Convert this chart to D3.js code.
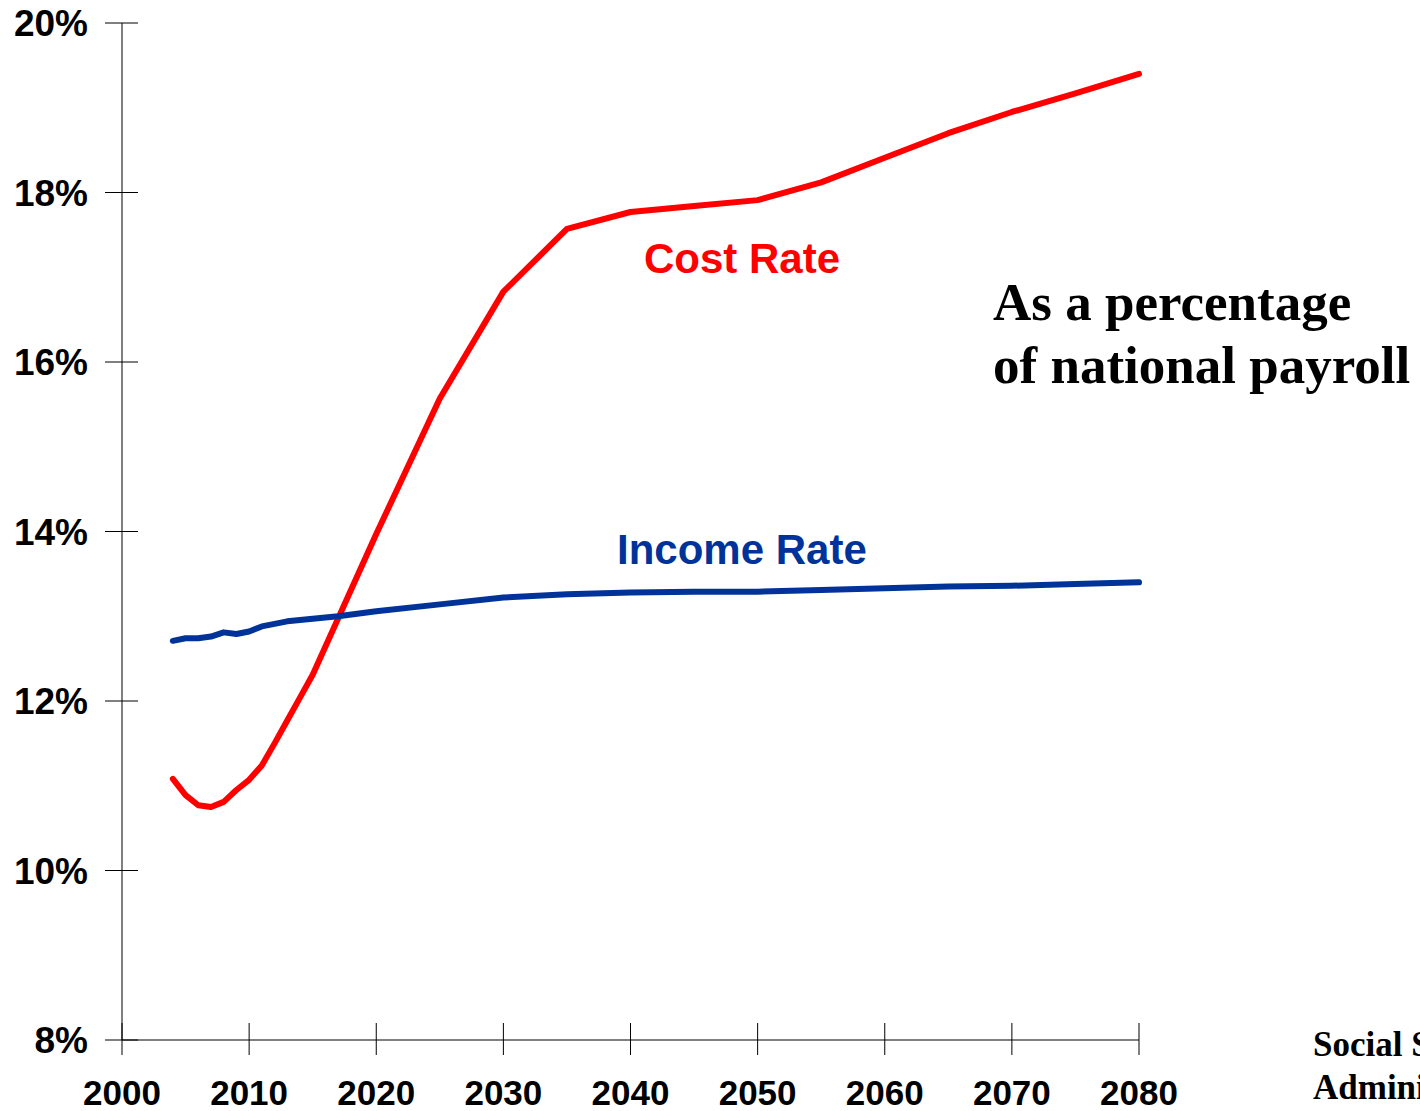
<!DOCTYPE html>
<html><head><meta charset="utf-8">
<script src="https://cdn.jsdelivr.net/npm/d3@7"></script>
<style>html,body{margin:0;padding:0;background:#fff;}svg{display:block;}</style>
</head><body>
<svg id="chart" width="1420" height="1111"></svg>
<script>
const costYears = [2004,2005,2006,2007,2008,2009,2010,2011,2012,2013,2014,2015,2020,2025,2030,2035,2040,2045,2050,2055,2060,2065,2070,2075,2080];
const costRate  = [11.08,10.89,10.77,10.75,10.81,10.95,11.07,11.24,11.50,11.77,12.04,12.31,13.97,15.57,16.83,17.57,17.77,17.84,17.91,18.12,18.41,18.70,18.95,19.17,19.40];
const incomeYears = [2004,2005,2006,2007,2008,2009,2010,2011,2013,2015,2017,2020,2025,2030,2035,2040,2045,2050,2055,2060,2065,2070,2075,2080];
const incomeRate  = [12.71,12.74,12.74,12.76,12.81,12.79,12.82,12.88,12.94,12.97,13.00,13.06,13.14,13.22,13.26,13.28,13.29,13.29,13.31,13.33,13.35,13.36,13.38,13.40];
const xTicks = [2000,2010,2020,2030,2040,2050,2060,2070,2080];
const yTicks = [8,10,12,14,16,18,20];

const svg = d3.select("#chart");
const x = d3.scaleLinear().domain([2000,2080]).range([122,1139]);
const y = d3.scaleLinear().domain([8,20]).range([1040,23]);

svg.append("line").attr("x1",122).attr("x2",122).attr("y1",y(20)).attr("y2",y(8)).attr("stroke","#000").attr("stroke-width",1);
svg.append("line").attr("x1",x(2000)).attr("x2",x(2080)).attr("y1",y(8)).attr("y2",y(8)).attr("stroke","#000").attr("stroke-width",1);

svg.selectAll(".yt").data(yTicks).enter().append("line")
  .attr("x1",105).attr("x2",138).attr("y1",d=>y(d)).attr("y2",d=>y(d)).attr("stroke","#000");
svg.selectAll(".yl").data(yTicks).enter().append("text")
  .attr("x",88).attr("y",d=>y(d)+13).attr("text-anchor","end")
  .attr("font-family","'Liberation Sans', Arial, sans-serif").attr("font-weight","bold").attr("font-size",37)
  .text(d=>d+"%");
svg.selectAll(".xt").data(xTicks).enter().append("line")
  .attr("x1",d=>x(d)).attr("x2",d=>x(d)).attr("y1",1023).attr("y2",1055).attr("stroke","#000");
svg.selectAll(".xl").data(xTicks).enter().append("text")
  .attr("x",d=>x(d)).attr("y",1105).attr("text-anchor","middle")
  .attr("font-family","'Liberation Sans', Arial, sans-serif").attr("font-weight","bold").attr("font-size",35)
  .text(d=>d);

const line = d3.line().x(d=>x(d[0])).y(d=>y(d[1]));
svg.append("path").datum(costYears.map((yr,i)=>[yr,costRate[i]]))
  .attr("d",line).attr("fill","none").attr("stroke","#ff0000").attr("stroke-width",6).attr("stroke-linejoin","round").attr("stroke-linecap","round");
svg.append("path").datum(incomeYears.map((yr,i)=>[yr,incomeRate[i]]))
  .attr("d",line).attr("fill","none").attr("stroke","#003399").attr("stroke-width",6).attr("stroke-linejoin","round").attr("stroke-linecap","round");

svg.append("text").attr("x",644).attr("y",273)
  .attr("font-family","'Liberation Sans', Arial, sans-serif").attr("font-weight","bold").attr("font-size",42)
  .attr("fill","#ff0000").text("Cost Rate");
svg.append("text").attr("x",617).attr("y",564)
  .attr("font-family","'Liberation Sans', Arial, sans-serif").attr("font-weight","bold").attr("font-size",42)
  .attr("fill","#003399").text("Income Rate");

const serif = "'Liberation Serif', 'Times New Roman', serif";
svg.append("text").attr("x",993).attr("y",320).attr("font-family",serif).attr("font-weight","bold").attr("font-size",53).text("As a percentage");
svg.append("text").attr("x",993).attr("y",383).attr("font-family",serif).attr("font-weight","bold").attr("font-size",53).text("of national payroll");
svg.append("text").attr("x",1313).attr("y",1056).attr("font-family",serif).attr("font-weight","bold").attr("font-size",35).text("Social Security");
svg.append("text").attr("x",1313).attr("y",1099).attr("font-family",serif).attr("font-weight","bold").attr("font-size",35).text("Administration");
</script>
</body></html>
